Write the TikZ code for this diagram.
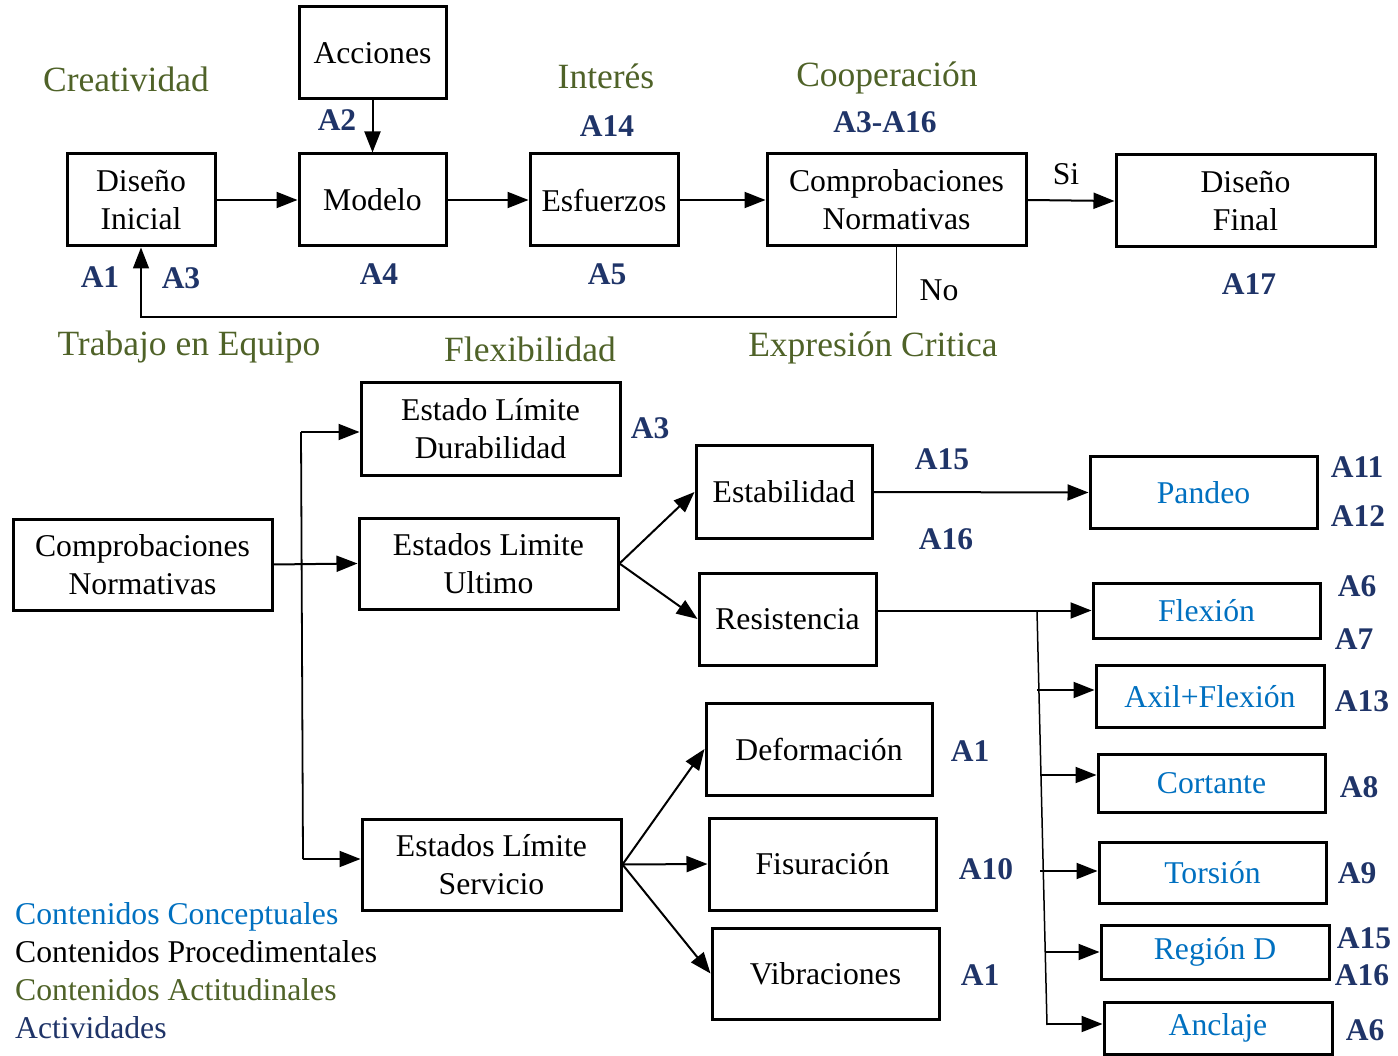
\documentclass[tikz,border=0pt]{standalone}
\usepackage{fontspec}
\setmainfont{Liberation Serif}
\usetikzlibrary{arrows.meta}
\definecolor{cgreen}{HTML}{4F6228}
\definecolor{cblue}{HTML}{0070C0}
\definecolor{cnavy}{HTML}{1F3468}
\newcommand\myfs{\fontsize{31.7}{38}\selectfont}
\newcommand\myfg{\fontsize{35.5}{40}\selectfont}
\newcommand\myfb{\fontsize{31.5}{36}\selectfont\bfseries}
\tikzset{
  box/.style={draw, line width=3pt, align=center, inner sep=0pt, font=\myfs},
  bbox/.style={box, text=cblue},
  arr/.style={line width=2pt, -{Triangle[length=21pt,width=16pt]}},
  ln/.style={line width=1.8pt},
  grn/.style={text=cgreen, font=\myfg, inner sep=0pt},
  act/.style={text=cnavy, font=\myfb, inner sep=0pt},
  plain/.style={font=\myfs, inner sep=0pt},
}
\begin{document}
\begin{tikzpicture}[x=1pt,y=-1pt]
\path[use as bounding box] (0,0) rectangle (1398,1056);
% ---- top row
\node[box, minimum width=147, minimum height=92] (acc) at (372.5,53) {Acciones};
\node[box, minimum width=148, minimum height=92] (di) at (141,200) {Diseño\\Inicial};
\node[box, minimum width=147, minimum height=92] (mod) at (372.5,200) {Modelo};
\node[box, minimum width=148, minimum height=92] (esf) at (604,200) {Esfuerzos};
\node[box, minimum width=259, minimum height=92] (ct) at (896.5,200) {Comprobaciones\\Normativas};
\node[box, minimum width=259, minimum height=92] (df) at (1245.5,201) {Diseño\\Final};

\draw[arr] (acc.south) -- (mod.north);
\draw[arr] (di.east) -- (mod.west);
\draw[arr] (mod.east) -- (esf.west);
\draw[arr] (esf.east) -- (ct.west);
\draw[arr] (ct.east) -- (df.west);
\coordinate (fbR) at (896.5,317);
\draw[line width=1.5pt, -{Triangle[length=21pt,width=16pt]}] (ct.south) -- (fbR) -| (di.south);

\node[grn] (l1) at (126,79) {Creatividad};
\node[act] (l2) at (337,120) {A2};
\node[grn] (l3) at (606,76) {Interés};
\node[act] (l4) at (607,126) {A14};
\node[grn] (l5) at (887,78) {Cooperación};
\node[act] (l6) at (885,122) {A3-A16};
\node[plain] (l7) at (1066,174) {Si};
\node[act] (l8) at (100,277) {A1};
\node[act] (l9) at (181,278) {A3};
\node[act] (l10) at (379,274) {A4};
\node[act] (l11) at (607,274) {A5};
\node[plain] (l12) at (939,290) {No};
\node[act] (l13) at (1249,284) {A17};
\node[grn] (l14) at (189,347) {Trabajo en Equipo};
\node[grn] (l15) at (530,349) {Flexibilidad};
\node[grn] (l16) at (873,348) {Expresión Critica};

% ---- bottom section
\node[box, minimum width=259, minimum height=91] (cn) at (142.5,564.5) {Comprobaciones\\Normativas};
\node[box, minimum width=259, minimum height=92] (eld) at (490.5,429) {Estado Límite\\Durabilidad};
\node[box, minimum width=259, minimum height=91] (elu) at (488.5,563.5) {Estados Limite\\Ultimo};
\node[box, minimum width=259, minimum height=91] (els) at (491.5,864.5) {Estados Límite\\Servicio};

\node[box, minimum width=176, minimum height=92] (est) at (784,492) {Estabilidad};
\node[box, minimum width=177, minimum height=92] (res) at (787.5,619) {Resistencia};
\node[box, minimum width=226, minimum height=92] (def) at (819,749) {Deformación};
\node[box, minimum width=227, minimum height=92] (fis) at (822.5,864) {Fisuración};
\node[box, minimum width=227, minimum height=91] (vib) at (825.5,973.5) {Vibraciones};

\node[bbox, minimum width=227, minimum height=71] (pan) at (1203.5,492.5) {Pandeo};
\node[bbox, minimum width=227, minimum height=55] (flx) at (1206.5,610.5) {Flexión};
\node[bbox, minimum width=228, minimum height=62, text depth=-6pt] (axf) at (1210,696) {Axil+Flexión};
\node[bbox, minimum width=227, minimum height=58] (cor) at (1211.5,783) {Cortante};
\node[bbox, minimum width=227, minimum height=61] (tor) at (1212.5,872.5) {Torsión};
\node[bbox, minimum width=228, minimum height=54] (reg) at (1215,952) {Región D};
\node[bbox, minimum width=228, minimum height=52] (anc) at (1218,1028) {Anclaje};

% connectors
\draw[arr] (cn.east) -- (elu.west);
\coordinate (vt) at (301,432);
\coordinate (vb) at (303,859);
\draw[ln] (vt) -- (vb);
\draw[arr] (vt) -- (vt -| eld.west);
\draw[arr] (vb) -- (vb -| els.west);

\draw[arr] (elu.east) -- (est.west);
\draw[arr] (elu.east) -- (res.west);
\draw[arr] (els.east) -- (def.west);
\draw[arr] (els.east) -- (fis.west);
\draw[arr] (els.east) -- (vib.west);

\draw[arr] (est.east) -- (pan.west);
\draw[arr] (flx.west -| res.east) -- (flx.west);
\coordinate (rt) at (1037,611);
\coordinate (rb) at (1047,1025);
\draw[line width=1.5pt] (rt) -- (rb);
\coordinate (b1) at (1037,690);
\coordinate (b2) at (1041,775);
\coordinate (b3) at (1040,871);
\coordinate (b4) at (1045,952);
\coordinate (b5) at (1047,1024);
\draw[arr] (b1) -- (b1 -| axf.west);
\draw[arr] (b2) -- (b2 -| cor.west);
\draw[arr] (b3) -- (b3 -| tor.west);
\draw[arr] (b4) -- (b4 -| reg.west);
\draw[arr] (b5) -- (b5 -| anc.west);

% labels
\node[act] (m1) at (650,428) {A3};
\node[act] (m2) at (942,459) {A15};
\node[act] (m3) at (946,539) {A16};
\node[act] (m4) at (970,751) {A1};
\node[act] (m5) at (986,869) {A10};
\node[act] (m6) at (980,975) {A1};
\node[act] (m7) at (1357,467) {A11};
\node[act] (m8) at (1358,516) {A12};
\node[act] (m9) at (1357,586) {A6};
\node[act] (m10) at (1354,639) {A7};
\node[act] (m11) at (1362,701) {A13};
\node[act] (m12) at (1359,787) {A8};
\node[act] (m13) at (1357,873) {A9};
\node[act] (m14) at (1364,938) {A15};
\node[act] (m15) at (1362,975) {A16};
\node[act] (m16) at (1365,1030) {A6};

% legend
\node[anchor=base west, font=\myfs, text=cblue, inner sep=0pt] (g1) at (15,924) {Contenidos Conceptuales};
\node[anchor=base west, font=\myfs, inner sep=0pt] (g2) at (15,962) {Contenidos Procedimentales};
\node[anchor=base west, font=\myfs, text=cgreen, inner sep=0pt] (g3) at (15,1000) {Contenidos Actitudinales};
\node[anchor=base west, font=\myfs, text=cnavy, inner sep=0pt] (g4) at (15,1038) {Actividades};
\end{tikzpicture}
\end{document}
